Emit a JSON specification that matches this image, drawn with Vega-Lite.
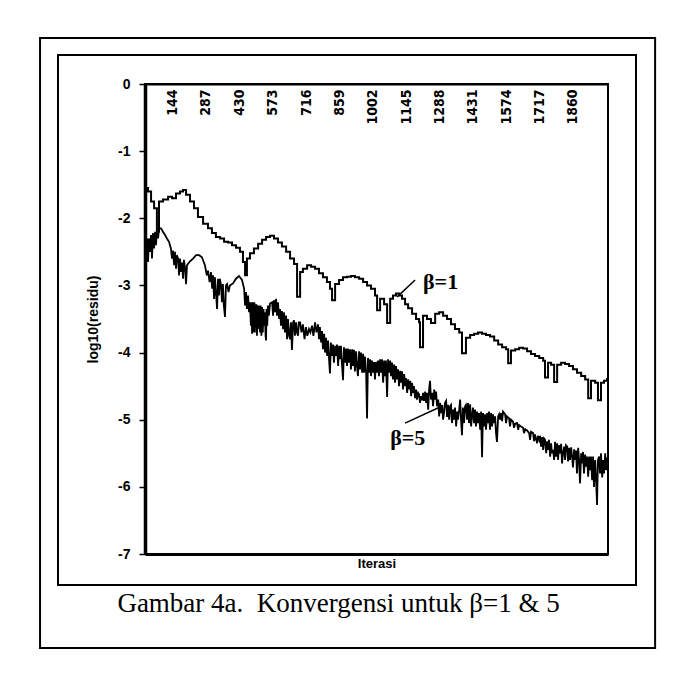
{
  "$schema": "https://vega.github.io/schema/vega-lite/v6.json",
  "autosize": "none",
  "width": 463,
  "height": 470,
  "padding": {"left": 145, "top": 84, "right": 72, "bottom": 121},
  "background": "white",
  "config": {
    "view": {"stroke": "black", "strokeWidth": 2},
    "axis": {"domainColor": "black", "tickColor": "black", "labelColor": "black", "titleColor": "black", "grid": false, "labelFont": "Liberation Sans", "titleFont": "Liberation Sans"}
  },
  "title": {
    "text": "Gambar 4a.\u00a0 Konvergensi untuk β=1 & 5",
    "orient": "bottom",
    "anchor": "middle",
    "frame": "bounds",
    "offset": -58,
    "dx": -9,
    "font": "Liberation Serif",
    "fontSize": 27,
    "fontWeight": "normal",
    "color": "black"
  },
  "resolve": {"axis": {"x": "independent"}},
  "datasets": {
    "frames": [
      {"x": -373, "x2": 2105, "y": 0.432, "y2": -7.462},
      {"x": -450, "x2": 2187, "y": 0.685, "y2": -8.40}
    ],
    "b1": [
      {"it": 1, "v": -1.55}, {"it": 13, "v": -1.6}, {"it": 26, "v": -1.75}, {"it": 39, "v": -1.85}, {"it": 51, "v": -2.2}, {"it": 60, "v": -1.75},
      {"it": 77, "v": -1.72}, {"it": 99, "v": -1.68}, {"it": 116, "v": -1.7}, {"it": 133, "v": -1.63}, {"it": 150, "v": -1.6}, {"it": 163, "v": -1.58},
      {"it": 176, "v": -1.65}, {"it": 193, "v": -1.75}, {"it": 210, "v": -1.85}, {"it": 227, "v": -1.98}, {"it": 249, "v": -2.08}, {"it": 270, "v": -2.15},
      {"it": 287, "v": -2.22}, {"it": 304, "v": -2.28}, {"it": 322, "v": -2.3}, {"it": 339, "v": -2.35}, {"it": 356, "v": -2.36}, {"it": 373, "v": -2.4},
      {"it": 390, "v": -2.44}, {"it": 407, "v": -2.5}, {"it": 420, "v": -2.65}, {"it": 429, "v": -2.85}, {"it": 437, "v": -2.6}, {"it": 450, "v": -2.52},
      {"it": 467, "v": -2.45}, {"it": 485, "v": -2.38}, {"it": 502, "v": -2.32}, {"it": 519, "v": -2.28}, {"it": 536, "v": -2.26}, {"it": 553, "v": -2.3},
      {"it": 570, "v": -2.36}, {"it": 587, "v": -2.42}, {"it": 605, "v": -2.5}, {"it": 622, "v": -2.6}, {"it": 639, "v": -2.68}, {"it": 652, "v": -3.17},
      {"it": 665, "v": -2.8}, {"it": 677, "v": -2.75}, {"it": 695, "v": -2.7}, {"it": 712, "v": -2.72}, {"it": 729, "v": -2.75}, {"it": 746, "v": -2.82},
      {"it": 763, "v": -2.88}, {"it": 780, "v": -2.95}, {"it": 793, "v": -3.05}, {"it": 802, "v": -3.22}, {"it": 815, "v": -2.98}, {"it": 832, "v": -2.92},
      {"it": 849, "v": -2.88}, {"it": 866, "v": -2.87}, {"it": 883, "v": -2.86}, {"it": 900, "v": -2.88}, {"it": 918, "v": -2.9}, {"it": 935, "v": -2.95},
      {"it": 952, "v": -3.0}, {"it": 969, "v": -3.05}, {"it": 986, "v": -3.15}, {"it": 995, "v": -3.37}, {"it": 1008, "v": -3.2}, {"it": 1025, "v": -3.28},
      {"it": 1038, "v": -3.56}, {"it": 1051, "v": -3.2}, {"it": 1063, "v": -3.15}, {"it": 1076, "v": -3.12}, {"it": 1089, "v": -3.15}, {"it": 1102, "v": -3.2},
      {"it": 1115, "v": -3.28}, {"it": 1128, "v": -3.34}, {"it": 1145, "v": -3.42}, {"it": 1162, "v": -3.5}, {"it": 1175, "v": -3.55}, {"it": 1179, "v": -3.92},
      {"it": 1192, "v": -3.45}, {"it": 1209, "v": -3.5}, {"it": 1226, "v": -3.56}, {"it": 1244, "v": -3.42}, {"it": 1261, "v": -3.4}, {"it": 1278, "v": -3.45},
      {"it": 1295, "v": -3.5}, {"it": 1312, "v": -3.58}, {"it": 1329, "v": -3.65}, {"it": 1347, "v": -3.7}, {"it": 1359, "v": -4.01}, {"it": 1376, "v": -3.78},
      {"it": 1394, "v": -3.74}, {"it": 1411, "v": -3.72}, {"it": 1428, "v": -3.7}, {"it": 1445, "v": -3.72}, {"it": 1462, "v": -3.74}, {"it": 1479, "v": -3.76},
      {"it": 1497, "v": -3.82}, {"it": 1514, "v": -3.88}, {"it": 1531, "v": -3.92}, {"it": 1548, "v": -3.95}, {"it": 1557, "v": -4.16}, {"it": 1569, "v": -3.97},
      {"it": 1587, "v": -3.95}, {"it": 1604, "v": -3.93}, {"it": 1621, "v": -3.94}, {"it": 1638, "v": -3.98}, {"it": 1655, "v": -4.02}, {"it": 1672, "v": -4.05},
      {"it": 1690, "v": -4.08}, {"it": 1707, "v": -4.12}, {"it": 1715, "v": -4.37}, {"it": 1728, "v": -4.15}, {"it": 1741, "v": -4.18}, {"it": 1754, "v": -4.44},
      {"it": 1767, "v": -4.18}, {"it": 1784, "v": -4.15}, {"it": 1801, "v": -4.17}, {"it": 1818, "v": -4.2}, {"it": 1835, "v": -4.25}, {"it": 1852, "v": -4.3},
      {"it": 1870, "v": -4.35}, {"it": 1887, "v": -4.4}, {"it": 1900, "v": -4.68}, {"it": 1912, "v": -4.42}, {"it": 1930, "v": -4.45}, {"it": 1942, "v": -4.71},
      {"it": 1955, "v": -4.45}, {"it": 1968, "v": -4.42}, {"it": 1981, "v": -4.38}
    ],
    "b5": [
      {"it": 1, "v": -2.35}, {"it": 5, "v": -2.6}, {"it": 9, "v": -2.3}, {"it": 13, "v": -2.65}, {"it": 17, "v": -2.3}, {"it": 21, "v": -2.5},
      {"it": 26, "v": -2.25}, {"it": 30, "v": -2.6}, {"it": 34, "v": -2.22}, {"it": 39, "v": -2.45}, {"it": 43, "v": -2.2}, {"it": 47, "v": -2.4},
      {"it": 51, "v": -2.18}, {"it": 56, "v": -2.3}, {"it": 60, "v": -2.15}, {"it": 69, "v": -2.15}, {"it": 77, "v": -2.2}, {"it": 86, "v": -2.25},
      {"it": 94, "v": -2.3}, {"it": 103, "v": -2.35}, {"it": 111, "v": -2.45}, {"it": 116, "v": -2.6}, {"it": 120, "v": -2.48}, {"it": 125, "v": -2.7},
      {"it": 129, "v": -2.5}, {"it": 133, "v": -2.75}, {"it": 137, "v": -2.55}, {"it": 142, "v": -2.6}, {"it": 146, "v": -2.85}, {"it": 150, "v": -2.6},
      {"it": 155, "v": -2.8}, {"it": 159, "v": -2.66}, {"it": 163, "v": -2.9}, {"it": 167, "v": -2.62}, {"it": 172, "v": -2.75}, {"it": 176, "v": -2.98},
      {"it": 180, "v": -2.7}, {"it": 184, "v": -2.68}, {"it": 193, "v": -2.64}, {"it": 206, "v": -2.6}, {"it": 219, "v": -2.55}, {"it": 232, "v": -2.55},
      {"it": 244, "v": -2.58}, {"it": 257, "v": -2.7}, {"it": 265, "v": -2.85}, {"it": 270, "v": -2.78}, {"it": 277, "v": -2.95}, {"it": 283, "v": -2.8},
      {"it": 288, "v": -3.05}, {"it": 292, "v": -2.85}, {"it": 296, "v": -3.2}, {"it": 300, "v": -2.88}, {"it": 304, "v": -3.1}, {"it": 309, "v": -3.35},
      {"it": 313, "v": -2.9}, {"it": 317, "v": -3.15}, {"it": 321, "v": -2.9}, {"it": 326, "v": -3.0}, {"it": 330, "v": -3.25}, {"it": 334, "v": -2.98},
      {"it": 338, "v": -3.3}, {"it": 343, "v": -3.47}, {"it": 347, "v": -3.0}, {"it": 352, "v": -2.98}, {"it": 358, "v": -3.1}, {"it": 364, "v": -3.0},
      {"it": 377, "v": -2.97}, {"it": 390, "v": -2.9}, {"it": 403, "v": -2.86}, {"it": 416, "v": -2.92}, {"it": 425, "v": -3.05}, {"it": 429, "v": -3.3},
      {"it": 433, "v": -3.1}, {"it": 437, "v": -3.35}, {"it": 442, "v": -3.15}, {"it": 446, "v": -3.4}, {"it": 450, "v": -3.25}, {"it": 454, "v": -3.6},
      {"it": 457, "v": -3.25}, {"it": 459, "v": -3.72}, {"it": 461, "v": -3.25}, {"it": 463, "v": -3.7}, {"it": 465, "v": -3.25}, {"it": 467, "v": -3.65},
      {"it": 469, "v": -3.25}, {"it": 471, "v": -3.7}, {"it": 474, "v": -3.28}, {"it": 476, "v": -3.6}, {"it": 478, "v": -3.28}, {"it": 480, "v": -3.75},
      {"it": 483, "v": -3.3}, {"it": 485, "v": -3.55}, {"it": 487, "v": -3.3}, {"it": 489, "v": -3.65}, {"it": 491, "v": -3.3}, {"it": 493, "v": -3.7},
      {"it": 496, "v": -3.3}, {"it": 499, "v": -3.75}, {"it": 502, "v": -3.32}, {"it": 505, "v": -3.7}, {"it": 508, "v": -3.35}, {"it": 510, "v": -3.6},
      {"it": 514, "v": -3.4}, {"it": 517, "v": -3.75}, {"it": 519, "v": -3.82}, {"it": 521, "v": -3.35}, {"it": 524, "v": -3.6}, {"it": 527, "v": -3.3},
      {"it": 531, "v": -3.45}, {"it": 536, "v": -3.27}, {"it": 545, "v": -3.25}, {"it": 549, "v": -3.45}, {"it": 553, "v": -3.22}, {"it": 558, "v": -3.4},
      {"it": 562, "v": -3.2}, {"it": 566, "v": -3.45}, {"it": 570, "v": -3.25}, {"it": 575, "v": -3.5}, {"it": 579, "v": -3.35}, {"it": 583, "v": -3.6},
      {"it": 587, "v": -3.38}, {"it": 592, "v": -3.65}, {"it": 596, "v": -3.4}, {"it": 600, "v": -3.7}, {"it": 605, "v": -3.45}, {"it": 609, "v": -3.8},
      {"it": 613, "v": -3.5}, {"it": 618, "v": -3.75}, {"it": 622, "v": -3.8}, {"it": 626, "v": -3.55}, {"it": 630, "v": -3.96}, {"it": 635, "v": -3.55},
      {"it": 639, "v": -3.52}, {"it": 643, "v": -3.75}, {"it": 648, "v": -3.55}, {"it": 652, "v": -3.7}, {"it": 656, "v": -3.75}, {"it": 660, "v": -3.55},
      {"it": 665, "v": -3.55}, {"it": 671, "v": -3.7}, {"it": 677, "v": -3.58}, {"it": 684, "v": -3.8}, {"it": 690, "v": -3.62}, {"it": 696, "v": -3.75},
      {"it": 703, "v": -3.65}, {"it": 709, "v": -3.7}, {"it": 716, "v": -3.6}, {"it": 722, "v": -3.75}, {"it": 729, "v": -3.55}, {"it": 735, "v": -3.7},
      {"it": 742, "v": -3.58}, {"it": 746, "v": -3.8}, {"it": 750, "v": -3.62}, {"it": 755, "v": -3.85}, {"it": 759, "v": -3.68}, {"it": 763, "v": -3.95},
      {"it": 768, "v": -3.72}, {"it": 772, "v": -4.0}, {"it": 776, "v": -3.78}, {"it": 781, "v": -4.05}, {"it": 785, "v": -3.82}, {"it": 789, "v": -4.1},
      {"it": 793, "v": -4.31}, {"it": 797, "v": -3.85}, {"it": 802, "v": -4.05}, {"it": 806, "v": -3.88}, {"it": 810, "v": -4.15}, {"it": 815, "v": -3.9},
      {"it": 819, "v": -4.05}, {"it": 823, "v": -3.88}, {"it": 828, "v": -4.2}, {"it": 832, "v": -3.9}, {"it": 836, "v": -4.1}, {"it": 840, "v": -3.9},
      {"it": 845, "v": -4.2}, {"it": 849, "v": -4.41}, {"it": 853, "v": -3.92}, {"it": 858, "v": -4.15}, {"it": 862, "v": -3.94}, {"it": 866, "v": -4.2},
      {"it": 870, "v": -3.94}, {"it": 875, "v": -4.15}, {"it": 879, "v": -3.95}, {"it": 883, "v": -4.25}, {"it": 888, "v": -3.95}, {"it": 892, "v": -4.2},
      {"it": 896, "v": -3.96}, {"it": 900, "v": -4.28}, {"it": 905, "v": -3.98}, {"it": 909, "v": -4.2}, {"it": 913, "v": -4.35}, {"it": 918, "v": -3.98},
      {"it": 922, "v": -4.25}, {"it": 926, "v": -4.0}, {"it": 931, "v": -4.3}, {"it": 935, "v": -4.02}, {"it": 939, "v": -4.3}, {"it": 943, "v": -4.06},
      {"it": 948, "v": -4.3}, {"it": 952, "v": -4.98}, {"it": 956, "v": -4.08}, {"it": 961, "v": -4.3}, {"it": 965, "v": -4.1}, {"it": 969, "v": -4.35},
      {"it": 973, "v": -4.12}, {"it": 978, "v": -4.3}, {"it": 982, "v": -4.14}, {"it": 986, "v": -4.4}, {"it": 990, "v": -4.14}, {"it": 995, "v": -4.3},
      {"it": 999, "v": -4.12}, {"it": 1003, "v": -4.35}, {"it": 1008, "v": -4.1}, {"it": 1012, "v": -4.3}, {"it": 1016, "v": -4.1}, {"it": 1021, "v": -4.45},
      {"it": 1025, "v": -4.12}, {"it": 1029, "v": -4.35}, {"it": 1033, "v": -4.12}, {"it": 1038, "v": -4.66}, {"it": 1042, "v": -4.1}, {"it": 1046, "v": -4.3},
      {"it": 1051, "v": -4.12}, {"it": 1055, "v": -4.35}, {"it": 1059, "v": -4.15}, {"it": 1063, "v": -4.4}, {"it": 1068, "v": -4.18}, {"it": 1072, "v": -4.45},
      {"it": 1076, "v": -4.2}, {"it": 1081, "v": -4.4}, {"it": 1085, "v": -4.25}, {"it": 1089, "v": -4.5}, {"it": 1094, "v": -4.27}, {"it": 1098, "v": -4.45},
      {"it": 1102, "v": -4.28}, {"it": 1106, "v": -4.55}, {"it": 1111, "v": -4.32}, {"it": 1115, "v": -4.5}, {"it": 1119, "v": -4.38}, {"it": 1124, "v": -4.6},
      {"it": 1128, "v": -4.4}, {"it": 1132, "v": -4.55}, {"it": 1137, "v": -4.42}, {"it": 1141, "v": -4.65}, {"it": 1145, "v": -4.45}, {"it": 1149, "v": -4.6},
      {"it": 1153, "v": -4.5}, {"it": 1158, "v": -4.68}, {"it": 1162, "v": -4.55}, {"it": 1166, "v": -4.7}, {"it": 1171, "v": -4.6}, {"it": 1175, "v": -4.62},
      {"it": 1179, "v": -4.75}, {"it": 1184, "v": -4.65}, {"it": 1188, "v": -4.71}, {"it": 1192, "v": -4.6}, {"it": 1196, "v": -4.72}, {"it": 1201, "v": -4.58},
      {"it": 1205, "v": -4.75}, {"it": 1209, "v": -4.6}, {"it": 1214, "v": -4.85}, {"it": 1218, "v": -4.55}, {"it": 1222, "v": -4.42}, {"it": 1226, "v": -4.7},
      {"it": 1231, "v": -4.6}, {"it": 1235, "v": -4.8}, {"it": 1240, "v": -4.55}, {"it": 1244, "v": -4.7}, {"it": 1248, "v": -4.58}, {"it": 1252, "v": -4.8},
      {"it": 1257, "v": -4.7}, {"it": 1261, "v": -4.95}, {"it": 1265, "v": -4.75}, {"it": 1269, "v": -4.9}, {"it": 1274, "v": -4.78}, {"it": 1278, "v": -5.0},
      {"it": 1282, "v": -4.9}, {"it": 1286, "v": -4.75}, {"it": 1291, "v": -4.72}, {"it": 1295, "v": -4.96}, {"it": 1299, "v": -4.78}, {"it": 1304, "v": -5.0},
      {"it": 1308, "v": -4.8}, {"it": 1312, "v": -4.78}, {"it": 1316, "v": -5.05}, {"it": 1321, "v": -4.85}, {"it": 1325, "v": -5.0}, {"it": 1329, "v": -4.82},
      {"it": 1334, "v": -5.1}, {"it": 1338, "v": -4.88}, {"it": 1342, "v": -5.0}, {"it": 1347, "v": -4.85}, {"it": 1351, "v": -4.7}, {"it": 1355, "v": -5.0},
      {"it": 1359, "v": -5.23}, {"it": 1363, "v": -4.82}, {"it": 1368, "v": -5.05}, {"it": 1372, "v": -4.8}, {"it": 1376, "v": -4.78}, {"it": 1381, "v": -5.0},
      {"it": 1385, "v": -4.75}, {"it": 1389, "v": -5.05}, {"it": 1394, "v": -4.77}, {"it": 1398, "v": -5.1}, {"it": 1402, "v": -4.95}, {"it": 1406, "v": -4.82},
      {"it": 1411, "v": -5.05}, {"it": 1415, "v": -4.85}, {"it": 1419, "v": -5.1}, {"it": 1424, "v": -4.88}, {"it": 1428, "v": -5.05}, {"it": 1432, "v": -4.9},
      {"it": 1437, "v": -5.15}, {"it": 1441, "v": -4.88}, {"it": 1445, "v": -5.56}, {"it": 1449, "v": -4.9}, {"it": 1454, "v": -5.1}, {"it": 1458, "v": -4.92},
      {"it": 1462, "v": -5.15}, {"it": 1467, "v": -4.9}, {"it": 1471, "v": -5.05}, {"it": 1475, "v": -4.88}, {"it": 1479, "v": -5.15}, {"it": 1484, "v": -4.9},
      {"it": 1488, "v": -5.1}, {"it": 1492, "v": -4.92}, {"it": 1497, "v": -5.05}, {"it": 1501, "v": -4.95}, {"it": 1505, "v": -5.2}, {"it": 1509, "v": -5.33},
      {"it": 1514, "v": -4.95}, {"it": 1518, "v": -4.92}, {"it": 1522, "v": -5.0}, {"it": 1527, "v": -4.9}, {"it": 1531, "v": -5.02}, {"it": 1535, "v": -4.88},
      {"it": 1544, "v": -4.92}, {"it": 1548, "v": -5.05}, {"it": 1552, "v": -4.95}, {"it": 1561, "v": -4.98}, {"it": 1565, "v": -5.1}, {"it": 1569, "v": -5.0},
      {"it": 1578, "v": -5.03}, {"it": 1582, "v": -5.12}, {"it": 1587, "v": -5.06}, {"it": 1595, "v": -5.05}, {"it": 1600, "v": -5.15}, {"it": 1604, "v": -5.08},
      {"it": 1612, "v": -5.1}, {"it": 1621, "v": -5.12}, {"it": 1625, "v": -5.2}, {"it": 1630, "v": -5.14}, {"it": 1638, "v": -5.16}, {"it": 1647, "v": -5.2},
      {"it": 1651, "v": -5.3}, {"it": 1655, "v": -5.18}, {"it": 1664, "v": -5.2}, {"it": 1668, "v": -5.32}, {"it": 1672, "v": -5.22}, {"it": 1681, "v": -5.35},
      {"it": 1685, "v": -5.24}, {"it": 1690, "v": -5.3}, {"it": 1694, "v": -5.24}, {"it": 1698, "v": -5.4}, {"it": 1703, "v": -5.26}, {"it": 1707, "v": -5.45},
      {"it": 1711, "v": -5.28}, {"it": 1715, "v": -5.3}, {"it": 1720, "v": -5.5}, {"it": 1724, "v": -5.32}, {"it": 1728, "v": -5.45}, {"it": 1732, "v": -5.3},
      {"it": 1737, "v": -5.55}, {"it": 1741, "v": -5.35}, {"it": 1745, "v": -5.5}, {"it": 1750, "v": -5.45}, {"it": 1754, "v": -5.6}, {"it": 1758, "v": -5.33},
      {"it": 1762, "v": -5.55}, {"it": 1767, "v": -5.35}, {"it": 1771, "v": -5.6}, {"it": 1775, "v": -5.38}, {"it": 1780, "v": -5.5}, {"it": 1784, "v": -5.36},
      {"it": 1788, "v": -5.65}, {"it": 1792, "v": -5.5}, {"it": 1797, "v": -5.4}, {"it": 1801, "v": -5.6}, {"it": 1805, "v": -5.38}, {"it": 1810, "v": -5.4},
      {"it": 1814, "v": -5.62}, {"it": 1818, "v": -5.42}, {"it": 1822, "v": -5.6}, {"it": 1827, "v": -5.41}, {"it": 1831, "v": -5.55}, {"it": 1835, "v": -5.71},
      {"it": 1840, "v": -5.44}, {"it": 1844, "v": -5.6}, {"it": 1848, "v": -5.46}, {"it": 1852, "v": -5.8}, {"it": 1857, "v": -5.42}, {"it": 1861, "v": -5.6},
      {"it": 1865, "v": -5.95}, {"it": 1870, "v": -5.5}, {"it": 1874, "v": -5.65}, {"it": 1878, "v": -5.48}, {"it": 1882, "v": -5.8}, {"it": 1887, "v": -5.52},
      {"it": 1891, "v": -5.7}, {"it": 1895, "v": -5.55}, {"it": 1900, "v": -5.85}, {"it": 1904, "v": -5.55}, {"it": 1908, "v": -5.75}, {"it": 1912, "v": -5.55},
      {"it": 1917, "v": -5.9}, {"it": 1921, "v": -5.55}, {"it": 1925, "v": -6.0}, {"it": 1930, "v": -5.6}, {"it": 1934, "v": -5.9}, {"it": 1938, "v": -6.27},
      {"it": 1942, "v": -5.6}, {"it": 1947, "v": -5.55}, {"it": 1951, "v": -5.8}, {"it": 1955, "v": -5.5}, {"it": 1960, "v": -5.86}, {"it": 1964, "v": -5.6},
      {"it": 1968, "v": -5.8}, {"it": 1973, "v": -5.5}, {"it": 1977, "v": -5.75}, {"it": 1981, "v": -5.56}
    ],
    "leaders": [
      {"x": 1081, "x2": 1158, "y": -3.17, "y2": -2.92},
      {"x": 1115, "x2": 1265, "y": -5.05, "y2": -4.81}
    ],
    "labels": [
      {"x": 1192, "y": -2.95, "t": "β=1"},
      {"x": 1051, "y": -5.27, "t": "β=5"}
    ]
  },
  "layer": [
    {
      "data": {"name": "b1"},
      "mark": {"type": "line", "interpolate": "step-after", "color": "black", "strokeWidth": 2},
      "encoding": {
        "x": {"field": "it", "type": "quantitative", "scale": {"domain": [0, 1985], "nice": false, "zero": false},
          "axis": {"orient": "top", "title": null,
            "values": [144, 287, 430, 573, 716, 859, 1002, 1145, 1288, 1431, 1574, 1717, 1860],
            "format": "d", "labelAngle": -90, "labelAlign": "right", "labelBaseline": "middle", "labelPadding": -5, "labelOffset": -6,
            "ticks": false, "tickSize": 0, "domainWidth": 2, "labelOverlap": false, "labelBound": false,
            "labelFont": "DejaVu Sans Condensed, Liberation Sans Narrow, sans-serif", "labelFontWeight": "bold", "labelFontSize": 14}},
        "y": {"field": "v", "type": "quantitative", "scale": {"domain": [-7, 0], "nice": false, "zero": false},
          "axis": {"title": "log10(residu)", "values": [0, -1, -2, -3, -4, -5, -6, -7], "format": "d",
            "labelExpr": "replace(datum.label, '\u2212', '-')",
            "domainWidth": 3.5, "tickSize": 6, "tickWidth": 1.5, "labelPadding": 9,
            "labelFontSize": 14, "labelFontWeight": "bold", "titleFontSize": 14, "titleFontWeight": "bold", "titlePadding": 17}}
      }
    },
    {
      "data": {"name": "b5"},
      "mark": {"type": "line", "color": "black", "strokeWidth": 1.8},
      "encoding": {
        "x": {"field": "it", "type": "quantitative", "scale": {"domain": [0, 1985], "nice": false, "zero": false},
          "axis": {"orient": "bottom", "title": "Iterasi", "labels": false, "ticks": false, "domain": true, "domainWidth": 3,
            "titleFontSize": 13, "titleFontWeight": "bold", "titlePadding": 3}},
        "y": {"field": "v", "type": "quantitative", "scale": {"domain": [-7, 0], "nice": false, "zero": false}}
      }
    },
    {
      "data": {"name": "frames"},
      "mark": {"type": "rect", "fill": null, "fillOpacity": 0, "stroke": "black", "strokeWidth": 2, "clip": false},
      "encoding": {
        "x": {"field": "x", "type": "quantitative", "scale": {"domain": [0, 1985], "nice": false, "zero": false}, "axis": null},
        "x2": {"field": "x2"},
        "y": {"field": "y", "type": "quantitative", "scale": {"domain": [-7, 0], "nice": false, "zero": false}},
        "y2": {"field": "y2"}
      }
    },
    {
      "data": {"name": "leaders"},
      "mark": {"type": "rule", "color": "black", "strokeWidth": 1.5},
      "encoding": {
        "x": {"field": "x", "type": "quantitative", "scale": {"domain": [0, 1985], "nice": false, "zero": false}, "axis": null},
        "x2": {"field": "x2"},
        "y": {"field": "y", "type": "quantitative", "scale": {"domain": [-7, 0], "nice": false, "zero": false}},
        "y2": {"field": "y2"}
      }
    },
    {
      "data": {"name": "labels"},
      "mark": {"type": "text", "align": "left", "baseline": "middle", "font": "Liberation Serif", "fontWeight": "bold", "fontSize": 22, "color": "black"},
      "encoding": {
        "x": {"field": "x", "type": "quantitative", "scale": {"domain": [0, 1985], "nice": false, "zero": false}, "axis": null},
        "y": {"field": "y", "type": "quantitative", "scale": {"domain": [-7, 0], "nice": false, "zero": false}},
        "text": {"field": "t"}
      }
    }
  ]
}
